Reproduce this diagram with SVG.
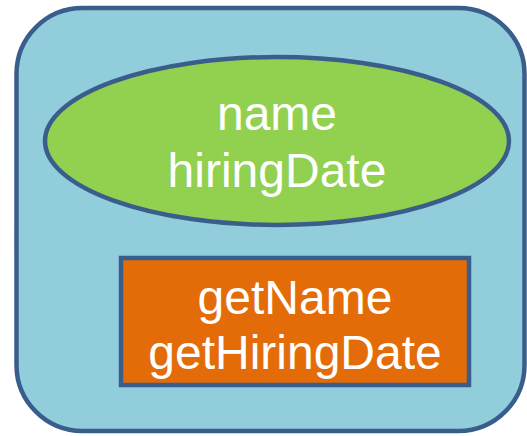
<svg xmlns="http://www.w3.org/2000/svg" width="527" height="436" viewBox="0 0 527 436">
<style>
.lbl{font-family:"Liberation Sans",Arial,sans-serif;font-size:48px;fill:#ffffff;text-anchor:middle}
.edge{stroke:#3a5e8c;stroke-width:4.5}
</style>
<rect width="527" height="436" fill="#ffffff"/>
<g id="object">
<rect class="edge" x="16.5" y="8" width="508" height="423" rx="66" ry="66" fill="#92cddc"/>
</g>
<g id="fields">
<ellipse class="edge" cx="277" cy="141" rx="232" ry="84" fill="#92d050"/>
<text class="lbl" x="277" y="130">name</text>
<text class="lbl" x="277" y="187">hiringDate</text>
</g>
<g id="methods">
<rect class="edge" x="121" y="258" width="348" height="127" fill="#e36c09"/>
<text class="lbl" x="295" y="314">getName</text>
<text class="lbl" x="295" y="369">getHiringDate</text>
</g>
<g id="connectors"></g>
</svg>
